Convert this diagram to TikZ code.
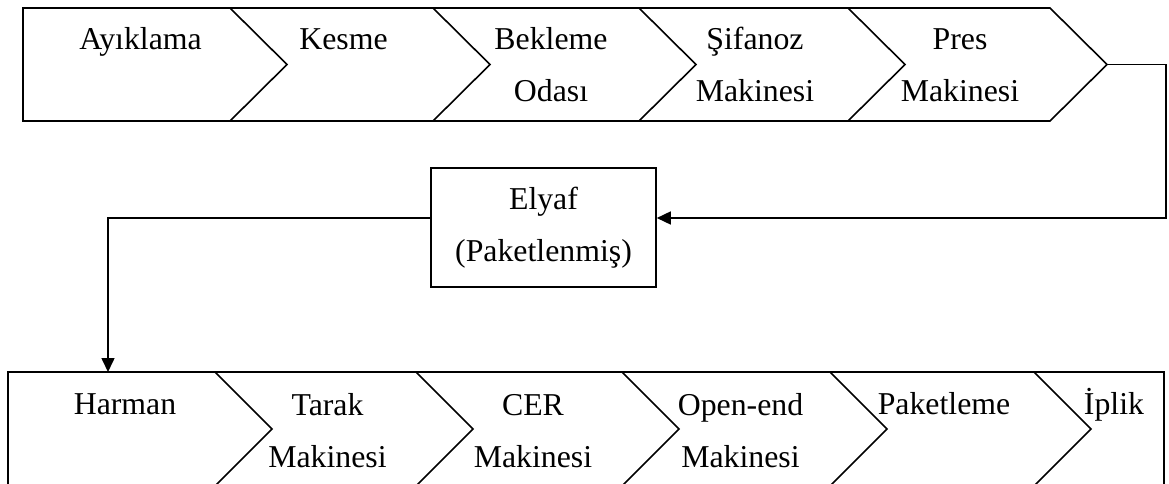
\documentclass[tikz,border=0pt]{standalone}
\usepackage{fontspec}
\setmainfont{Liberation Serif}
\usetikzlibrary{arrows.meta}

\begin{document}
\begin{tikzpicture}[
    x=1pt, y=-1pt,
    lbl/.style={anchor=base, align=center, inner sep=0pt,
                font=\fontsize{31.8}{52}\selectfont},
    flowline/.style={line width=1.6pt, line join=miter},
    arr/.style={-{Triangle[length=14pt,width=13pt]}, line width=1.6pt}
  ]
    \clip (0,0) rectangle (1169,484);

    % upper chain
    \draw[flowline] (23,8) -- (1050,8) -- (1107,64.5) -- (1050,121) -- (23,121) -- cycle;
    \draw[flowline] (230,8) -- ++(57,56.5) -- ++(-57,56.5);
    \draw[flowline] (433,8) -- ++(57,56.5) -- ++(-57,56.5);
    \draw[flowline] (639,8) -- ++(57,56.5) -- ++(-57,56.5);
    \draw[flowline] (848,8) -- ++(57,56.5) -- ++(-57,56.5);
    \coordinate (prestip) at (1107,64.5);

    % base anchor sits on the last line
    \node[lbl] (ayiklama) at (140.5,50) {Ayıklama};
    \node[lbl] (kesme)    at (343.5,50) {Kesme};
    \node[lbl] (bekleme)  at (551,102)  {Bekleme\\Odası};
    \node[lbl] (sifanoz)  at (755,102)  {Şifanoz\\Makinesi};
    \node[lbl] (pres)     at (960,102)  {Pres\\Makinesi};

    % packed fibre
    \node[draw, line width=1.6pt, minimum width=225pt, minimum height=119pt,
          align=center, inner sep=0pt, font=\fontsize{31.8}{52}\selectfont]
          (elyaf) at (543.5,227.5) {Elyaf\\(Paketlenmiş)};

    % lower chain
    \draw[flowline] (8,372) -- (1164,372) -- (1164,486) -- (8,486) -- cycle;
    \draw[flowline] (215,372) -- ++(57,57) -- ++(-57,57);
    \draw[flowline] (416,372) -- ++(57,57) -- ++(-57,57);
    \draw[flowline] (622,372) -- ++(57,57) -- ++(-57,57);
    \draw[flowline] (830,372) -- ++(57,57) -- ++(-57,57);
    \draw[flowline] (1034,372) -- ++(57,57) -- ++(-57,57);

    \node[lbl] (harman)    at (125,414)   {Harman};
    \node[lbl] (tarak)     at (327.5,467) {Tarak\\Makinesi};
    \node[lbl] (cer)       at (533,467)   {CER\\Makinesi};
    \node[lbl] (openend)   at (740.5,467) {Open-end\\Makinesi};
    \node[lbl] (paketleme) at (944,414)   {Paketleme};
    \node[lbl] (iplik)     at (1114,414)  {İplik};

    % connectors
    \coordinate (rbend) at (1166,218);
    \coordinate (harmanin) at (108,372);
    \draw[arr] (prestip) -| (rbend) -- (rbend -| elyaf.east);
    \draw[arr] (rbend -| elyaf.west) -| (harmanin);
\end{tikzpicture}
\end{document}
